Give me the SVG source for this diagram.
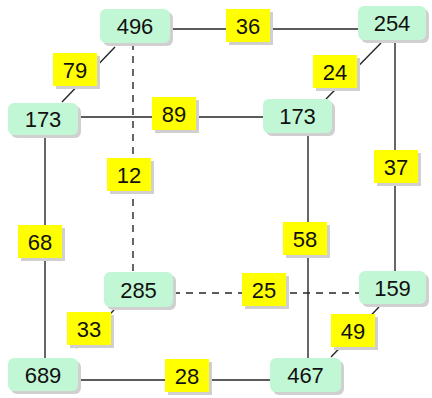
<svg xmlns="http://www.w3.org/2000/svg" width="432" height="398" viewBox="0 0 432 398">
<defs>
<style>
.bg{fill:#ffffff}
.edge{stroke:#262626;stroke-width:1.4;fill:none}
.dash{stroke-dasharray:7,6}
.nshadow{fill:#d0d0d0}
.node{fill:#c2f7d6}
.lshadow{fill:#d0d0d0}
.lbl{fill:#ffff00}
.t{font-family:"Liberation Sans",Arial,sans-serif;font-size:22px;fill:#111;text-anchor:middle}
</style>
</defs>
<rect class="bg" x="0" y="0" width="432" height="398"/>
<g id="connectors">
  <line class="edge" x1="170" y1="29" x2="360" y2="29"/>
  <line class="edge" x1="115" y1="47" x2="62" y2="102"/>
  <line class="edge" x1="381" y1="43" x2="326" y2="99"/>
  <line class="edge" x1="78" y1="117" x2="263" y2="117"/>
  <line class="edge dash" x1="133" y1="43" x2="133" y2="272"/>
  <line class="edge" x1="395" y1="40" x2="395" y2="271"/>
  <line class="edge" x1="45" y1="135" x2="45" y2="358"/>
  <line class="edge" x1="308" y1="133" x2="308" y2="358"/>
  <line class="edge dash" x1="173" y1="293" x2="359" y2="293"/>
  <line class="edge dash" x1="114" y1="310" x2="76" y2="348"/>
  <line class="edge" x1="379" y1="307" x2="331" y2="357"/>
  <line class="edge" x1="78" y1="380" x2="270" y2="380"/>
  <g id="label-36"><rect class="lshadow" x="229" y="12" width="44" height="33"/><rect class="lbl" x="226" y="9" width="44" height="33"/><text class="t" x="248" y="33.5">36</text></g>
  <g id="label-79"><rect class="lshadow" x="56" y="56" width="44" height="33"/><rect class="lbl" x="53" y="53" width="44" height="33"/><text class="t" x="75" y="77.5">79</text></g>
  <g id="label-24"><rect class="lshadow" x="316" y="58" width="44" height="33"/><rect class="lbl" x="313" y="55" width="44" height="33"/><text class="t" x="335" y="79.5">24</text></g>
  <g id="label-89"><rect class="lshadow" x="155" y="100" width="44" height="33"/><rect class="lbl" x="152" y="97" width="44" height="33"/><text class="t" x="174" y="121.5">89</text></g>
  <g id="label-12"><rect class="lshadow" x="110" y="161" width="44" height="33"/><rect class="lbl" x="107" y="158" width="44" height="33"/><text class="t" x="129" y="182.5">12</text></g>
  <g id="label-37"><rect class="lshadow" x="377" y="153" width="44" height="33"/><rect class="lbl" x="374" y="150" width="44" height="33"/><text class="t" x="396" y="174.5">37</text></g>
  <g id="label-68"><rect class="lshadow" x="21" y="228" width="44" height="33"/><rect class="lbl" x="18" y="225" width="44" height="33"/><text class="t" x="40" y="249.5">68</text></g>
  <g id="label-58"><rect class="lshadow" x="286" y="225" width="44" height="33"/><rect class="lbl" x="283" y="222" width="44" height="33"/><text class="t" x="305" y="246.5">58</text></g>
  <g id="label-25"><rect class="lshadow" x="245" y="276" width="44" height="33"/><rect class="lbl" x="242" y="273" width="44" height="33"/><text class="t" x="264" y="297.5">25</text></g>
  <g id="label-33"><rect class="lshadow" x="70" y="315" width="44" height="33"/><rect class="lbl" x="67" y="312" width="44" height="33"/><text class="t" x="89" y="336.5">33</text></g>
  <g id="label-49"><rect class="lshadow" x="334" y="317" width="44" height="33"/><rect class="lbl" x="331" y="314" width="44" height="33"/><text class="t" x="353" y="338.5">49</text></g>
  <g id="label-28"><rect class="lshadow" x="168" y="362" width="44" height="33"/><rect class="lbl" x="165" y="359" width="44" height="33"/><text class="t" x="187" y="383.5">28</text></g>
</g>
<g id="node-496"><rect class="nshadow" x="103" y="12" width="70" height="34" rx="6"/><rect class="node" x="100" y="9" width="70" height="34" rx="6"/><text class="t" x="135" y="34">496</text></g>
<g id="node-254"><rect class="nshadow" x="361" y="9" width="68" height="34" rx="6"/><rect class="node" x="358" y="6" width="68" height="34" rx="6"/><text class="t" x="392" y="31">254</text></g>
<g id="node-173a"><rect class="nshadow" x="11" y="106" width="70" height="32" rx="6"/><rect class="node" x="8" y="103" width="70" height="32" rx="6"/><text class="t" x="43" y="127">173</text></g>
<g id="node-173b"><rect class="nshadow" x="266" y="102" width="69" height="34" rx="6"/><rect class="node" x="263" y="99" width="69" height="34" rx="6"/><text class="t" x="297.5" y="124">173</text></g>
<g id="node-285"><rect class="nshadow" x="107" y="275" width="69" height="35" rx="6"/><rect class="node" x="104" y="272" width="69" height="35" rx="6"/><text class="t" x="138.5" y="297.5">285</text></g>
<g id="node-159"><rect class="nshadow" x="362" y="274" width="67" height="33" rx="6"/><rect class="node" x="359" y="271" width="67" height="33" rx="6"/><text class="t" x="392.5" y="295.5">159</text></g>
<g id="node-689"><rect class="nshadow" x="11" y="361" width="70" height="33" rx="6"/><rect class="node" x="8" y="358" width="70" height="33" rx="6"/><text class="t" x="43" y="382.5">689</text></g>
<g id="node-467"><rect class="nshadow" x="273" y="361" width="71" height="34" rx="6"/><rect class="node" x="270" y="358" width="71" height="34" rx="6"/><text class="t" x="305.5" y="383">467</text></g>
</svg>
